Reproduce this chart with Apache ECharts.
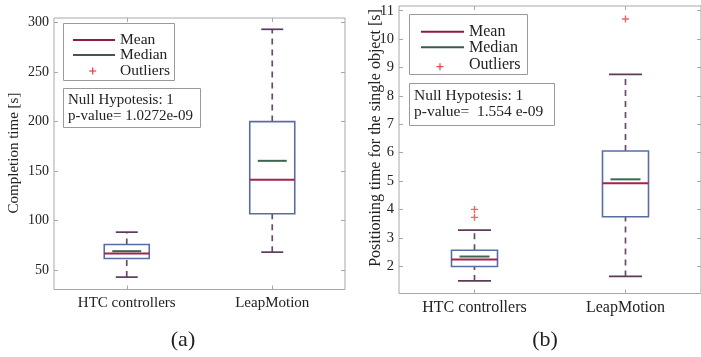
<!DOCTYPE html>
<html>
<head>
<meta charset="utf-8">
<script src="https://cdn.jsdelivr.net/npm/echarts@6/dist/echarts.min.js"></script>
<style>html,body{margin:0;padding:0;background:#fff;}#c{width:701px;height:357px;}</style>
</head>
<body>
<div id="c"></div>
<script>
// ---- data ----
var categories = ['HTC controllers', 'LeapMotion'];
// panel (a): completion time [s]
var compMin    = [43, 68.2];
var compQ1     = [61.8, 107];
var compMedian = [69.2, 160.4];
var compQ3     = [76, 200];
var compMax    = [88.4, 293.2];
var compMean   = [66.9, 141.2];
var compOutliers = [];
var compTicks = [50, 100, 150, 200, 250, 300];
// panel (b): positioning time [s]
var posMin    = [1.48, 1.64];
var posQ1     = [1.99, 3.74];
var posMedian = [2.34, 5.06];
var posQ3     = [2.56, 6.06];
var posMax    = [3.27, 8.76];
var posMean   = [2.24, 4.92];
var posOutliers = [[0, 4.0], [0, 3.72], [1, 10.71]];
var posTicks = [2, 3, 4, 5, 6, 7, 8, 9, 10, 11];

var FONT = '"Liberation Serif", "DejaVu Serif", serif';
var C_BOX = '#5a6da3', C_MEAN = '#a3234f', C_MED = '#36694f', C_WH = '#6a4a68', C_CAP = '#5e3a5a', C_OUT = '#e8403f';
var AX = '#a8a8a8';

function boxData(mn, q1, md, q3, mx, me) {
  return categories.map(function (c, i) { return [i, mn[i], q1[i], md[i], q3[i], mx[i], me[i]]; });
}
function makeRender(boxW, capW, medW) {
  return function (params, api) {
    var i = api.value(0);
    var pMin = api.coord([i, api.value(1)]);
    var pQ1 = api.coord([i, api.value(2)]);
    var pMed = api.coord([i, api.value(3)]);
    var pQ3 = api.coord([i, api.value(4)]);
    var pMax = api.coord([i, api.value(5)]);
    var pMean = api.coord([i, api.value(6)]);
    var cx = pMin[0];
    var dash = {stroke: C_WH, lineWidth: 1.7, lineDash: [6, 5]};
    return {type: 'group', children: [
      {type: 'line', shape: {x1: cx, y1: pQ3[1], x2: cx, y2: pMax[1]}, style: dash},
      {type: 'line', shape: {x1: cx, y1: pMin[1], x2: cx, y2: pQ1[1]}, style: dash},
      {type: 'line', shape: {x1: cx - capW / 2, y1: pMax[1], x2: cx + capW / 2, y2: pMax[1]}, style: {stroke: C_CAP, lineWidth: 1.7}},
      {type: 'line', shape: {x1: cx - capW / 2, y1: pMin[1], x2: cx + capW / 2, y2: pMin[1]}, style: {stroke: C_CAP, lineWidth: 1.7}},
      {type: 'rect', shape: {x: cx - boxW / 2, y: pQ3[1], width: boxW, height: pQ1[1] - pQ3[1]}, style: {fill: 'none', stroke: C_BOX, lineWidth: 1.6}},
      {type: 'line', shape: {x1: cx - medW / 2, y1: pMed[1], x2: cx + medW / 2, y2: pMed[1]}, style: {stroke: C_MED, lineWidth: 2}},
      {type: 'line', shape: {x1: cx - boxW / 2, y1: pMean[1], x2: cx + boxW / 2, y2: pMean[1]}, style: {stroke: C_MEAN, lineWidth: 2}}
    ]};
  };
}
var plusPath = 'path://M4,0h2v4h4v2h-4v4h-2v-4h-4v-2h4z';

function xAxes(gi, fs) {
  var common = {type: 'category', data: categories, gridIndex: gi, boundaryGap: true,
    axisLine: {show: false}, splitLine: {show: false},
    axisTick: {show: true, inside: true, alignWithLabel: true, length: 4, lineStyle: {color: AX}}};
  return [
    Object.assign({}, common, {position: 'bottom', axisLabel: {fontFamily: FONT, fontSize: fs, color: '#222', margin: 6}}),
    Object.assign({}, common, {position: 'top', axisLabel: {show: false}})
  ];
}
function yAxes(gi, mn, mx, ticks, fs) {
  var common = {type: 'value', gridIndex: gi, min: mn, max: mx, splitLine: {show: false}, axisLine: {show: false},
    axisTick: {show: true, inside: true, length: 4, customValues: ticks, lineStyle: {color: AX}}};
  return [
    Object.assign({}, common, {position: 'left',
      axisLabel: {customValues: ticks, fontFamily: FONT, fontSize: fs, color: '#222', margin: 5}}),
    Object.assign({}, common, {position: 'right', axisLabel: {show: false}})
  ];
}

function txt(x, y, s, size, align, rot) {
  return {type: 'text', x: x, y: y, rotation: rot || 0,
    style: {text: s, fontFamily: FONT, fontSize: size || 15, fill: '#222', align: align || 'left', verticalAlign: 'middle'}};
}
function rectG(x, y, w, h) {
  return {type: 'rect', shape: {x: x, y: y, width: w, height: h}, style: {fill: '#fff', stroke: '#9a9a9a', lineWidth: 1}};
}
function lineG(x1, x2, y, color) {
  return {type: 'line', shape: {x1: x1, y1: y, x2: x2, y2: y}, style: {stroke: color, lineWidth: 2}};
}
function plusG(x, y) {
  return {type: 'group', children: [
    {type: 'line', shape: {x1: x - 3.5, y1: y, x2: x + 3.5, y2: y}, style: {stroke: C_OUT, lineWidth: 1.2}},
    {type: 'line', shape: {x1: x, y1: y - 3.5, x2: x, y2: y + 3.5}, style: {stroke: C_OUT, lineWidth: 1.2}}
  ]};
}

var chart = echarts.init(document.getElementById('c'), null, {renderer: 'canvas'});
chart.setOption({
  animation: false,
  backgroundColor: '#fff',
  grid: [
    {left: 54, top: 18, width: 291, height: 271.5, show: true, borderColor: AX, borderWidth: 1, backgroundColor: 'transparent'},
    {left: 399, top: 6, width: 310, height: 287.5, show: true, borderColor: AX, borderWidth: 1, backgroundColor: 'transparent'}
  ],
  xAxis: xAxes(0, 15).concat(xAxes(1, 16)),
  yAxis: yAxes(0, 30.5, 304.6, compTicks, 14).concat(yAxes(1, 1.038, 11.166, posTicks, 14.5)),
  series: [
    {type: 'custom', xAxisIndex: 0, yAxisIndex: 0, renderItem: makeRender(45, 22, 29),
      encode: {x: 0, y: [1, 2, 3, 4, 5, 6]}, data: boxData(compMin, compQ1, compMedian, compQ3, compMax, compMean), z: 3},
    {type: 'scatter', xAxisIndex: 0, yAxisIndex: 0, symbol: plusPath, symbolSize: 7, itemStyle: {color: C_OUT}, data: compOutliers},
    {type: 'custom', xAxisIndex: 2, yAxisIndex: 2, renderItem: makeRender(46, 33, 30),
      encode: {x: 0, y: [1, 2, 3, 4, 5, 6]}, data: boxData(posMin, posQ1, posMedian, posQ3, posMax, posMean), z: 3},
    {type: 'scatter', xAxisIndex: 2, yAxisIndex: 2, symbol: plusPath, symbolSize: 7, itemStyle: {color: C_OUT, opacity: 0.8}, data: posOutliers}
  ],
  graphic: [
    // axis titles
    txt(14, 153, 'Completion time [s]', 15, 'center', Math.PI / 2),
    txt(376, 138, 'Positioning time for the single object [s]', 16, 'center', Math.PI / 2),
    // panel (a) legend
    rectG(63.5, 23.5, 111, 57),
    lineG(73, 115, 40, '#8c1c40'), lineG(73, 115, 55, '#3f5a4c'), plusG(92.7, 71),
    txt(120, 40, 'Mean', 15.5), txt(120, 55, 'Median', 15.5), txt(120, 71, 'Outliers', 15.5),
    rectG(63.5, 88.5, 137, 39),
    txt(68, 100, 'Null Hypotesis: 1', 15), txt(68, 116, 'p-value= 1.0272e-09', 15),
    // panel (b) legend
    rectG(409.5, 14.5, 118, 60),
    lineG(421, 464, 31.7, '#8c1c40'), lineG(421, 464, 47.3, '#3f5a4c'), plusG(440, 66.7),
    txt(469, 31.7, 'Mean', 16), txt(469, 47.3, 'Median', 16), txt(469, 65, 'Outliers', 16),
    rectG(409.5, 83.5, 145, 42),
    txt(414, 96, 'Null Hypotesis: 1', 15.5), txt(414, 112, 'p-value=  1.554 e-09', 15.5),
    txt(183, 340, '(a)', 22, 'center'),
    txt(545, 340, '(b)', 22, 'center')
  ]
});
</script>
</body>
</html>
